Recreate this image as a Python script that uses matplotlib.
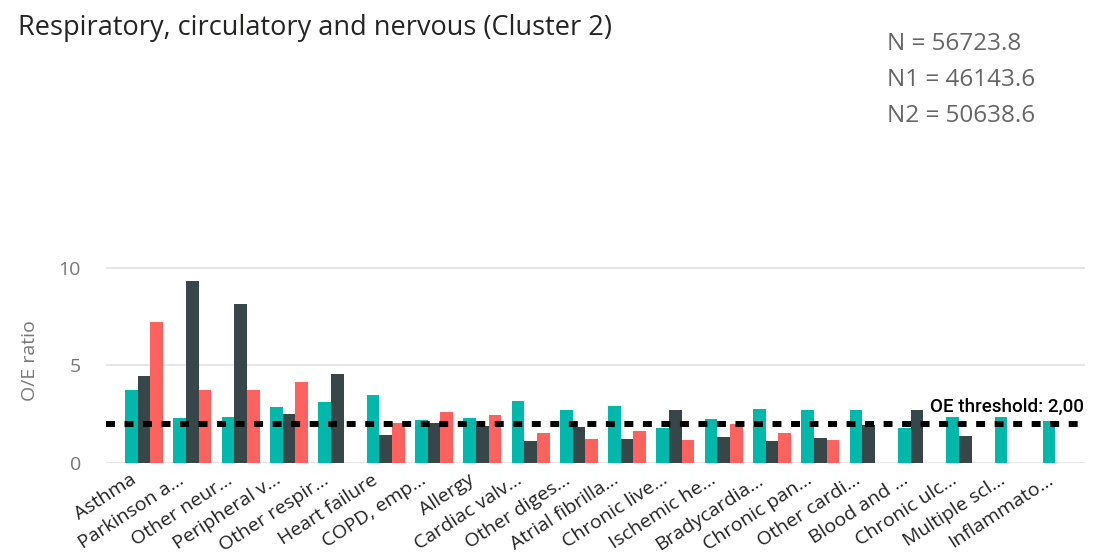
import matplotlib.pyplot as plt
import matplotlib.transforms as mtransforms
import numpy as np

categories = ["Asthma", "Parkinson a...", "Other neur...", "Peripheral v...", "Other respir...",
              "Heart failure", "COPD, emp...", "Allergy", "Cardiac valv...", "Other diges...",
              "Atrial fibrilla...", "Chronic live...", "Ischemic he...", "Bradycardia...",
              "Chronic pan...", "Other cardi...", "Blood and ...", "Chronic ulc...",
              "Multiple scl...", "Inflammato..."]
# O/E ratio per category (nan = no bar)
oe_n = [3.74, 2.33, 2.38, 2.86, 3.13, 3.50, 2.21, 2.28, 3.18, 2.72,
        2.94, 1.77, 2.26, 2.76, 2.70, 2.70, 1.79, 2.36, 2.38, 2.14]
oe_n1 = [4.47, 9.30, 8.16, 2.52, 4.54, 1.45, 2.06, 1.89, 1.12, 1.84,
         1.24, 2.72, 1.34, 1.14, 1.29, 1.96, 2.74, 1.39, np.nan, np.nan]
oe_n2 = [7.23, 3.74, 3.74, 4.15, np.nan, 2.06, 2.60, 2.45, 1.56, 1.24,
         1.62, 1.19, 2.00, 1.56, 1.17, np.nan, np.nan, np.nan, np.nan, np.nan]
threshold = 2.0
n_texts = ["N = 56723.8", "N1 = 46143.6", "N2 = 50638.6"]

colors = ["#01B8AA", "#374649", "#FD625E"]
font = "Open Sans"

fig = plt.figure(figsize=(10.93, 5.56), dpi=100)
ax = fig.add_axes([106 / 1093, 1 - 463 / 556, (1085 - 106) / 1093, (463 - 258) / 556])

x = np.arange(len(categories))
w = 0.262
for i, vals in enumerate([oe_n, oe_n1, oe_n2]):
    ax.bar(x + (i - 1) * w, vals, w, color=colors[i], zorder=2)

ax.axhline(threshold, color="black", lw=4.3, linestyle=(0, (1.5, 1.6)), zorder=3)
ax.text(19.45, threshold + 0.42, "OE threshold: 2,00", ha="right", va="bottom",
        fontsize=13.5, family="Roboto", fontweight="medium", color="black")

ax.set_xlim(-0.79, 19.48)
ax.set_ylim(0, 10.5)
ax.set_yticks([0, 5, 10])
ax.yaxis.grid(True, color="#e6e6e6", lw=1.5, zorder=0)
ax.set_axisbelow(True)
for s in ax.spines.values():
    s.set_visible(False)
ax.tick_params(length=0)
ax.tick_params(axis="y", labelsize=14, labelcolor="#777777", pad=18)
for t in ax.get_yticklabels():
    t.set_family(font)
ax.set_xticks(x)
ax.set_xticklabels(categories, rotation=33, ha="right", va="center", rotation_mode="anchor",
                   fontsize=14, family=font, color="#222222")
ax.tick_params(axis="x", pad=11)
shift = mtransforms.ScaledTranslation(-10 / 100, 0, fig.dpi_scale_trans)
for t in ax.get_xticklabels():
    t.set_transform(t.get_transform() + shift)
ax.set_ylabel("O/E ratio", fontsize=14, family=font, color="#777777", labelpad=14)

fig.text(18 / 1093, 1 - 28 / 556, "Respiratory, circulatory and nervous (Cluster 2)",
         fontsize=19.5, family=font, color="#252423", va="center", ha="left")
for i, t in enumerate(n_texts):
    fig.text(887 / 1093, 1 - (44 + 36 * i) / 556, t, fontsize=17.5, family=font,
             color="#666666", va="center", ha="left")

fig.savefig("out.png", dpi=100)
